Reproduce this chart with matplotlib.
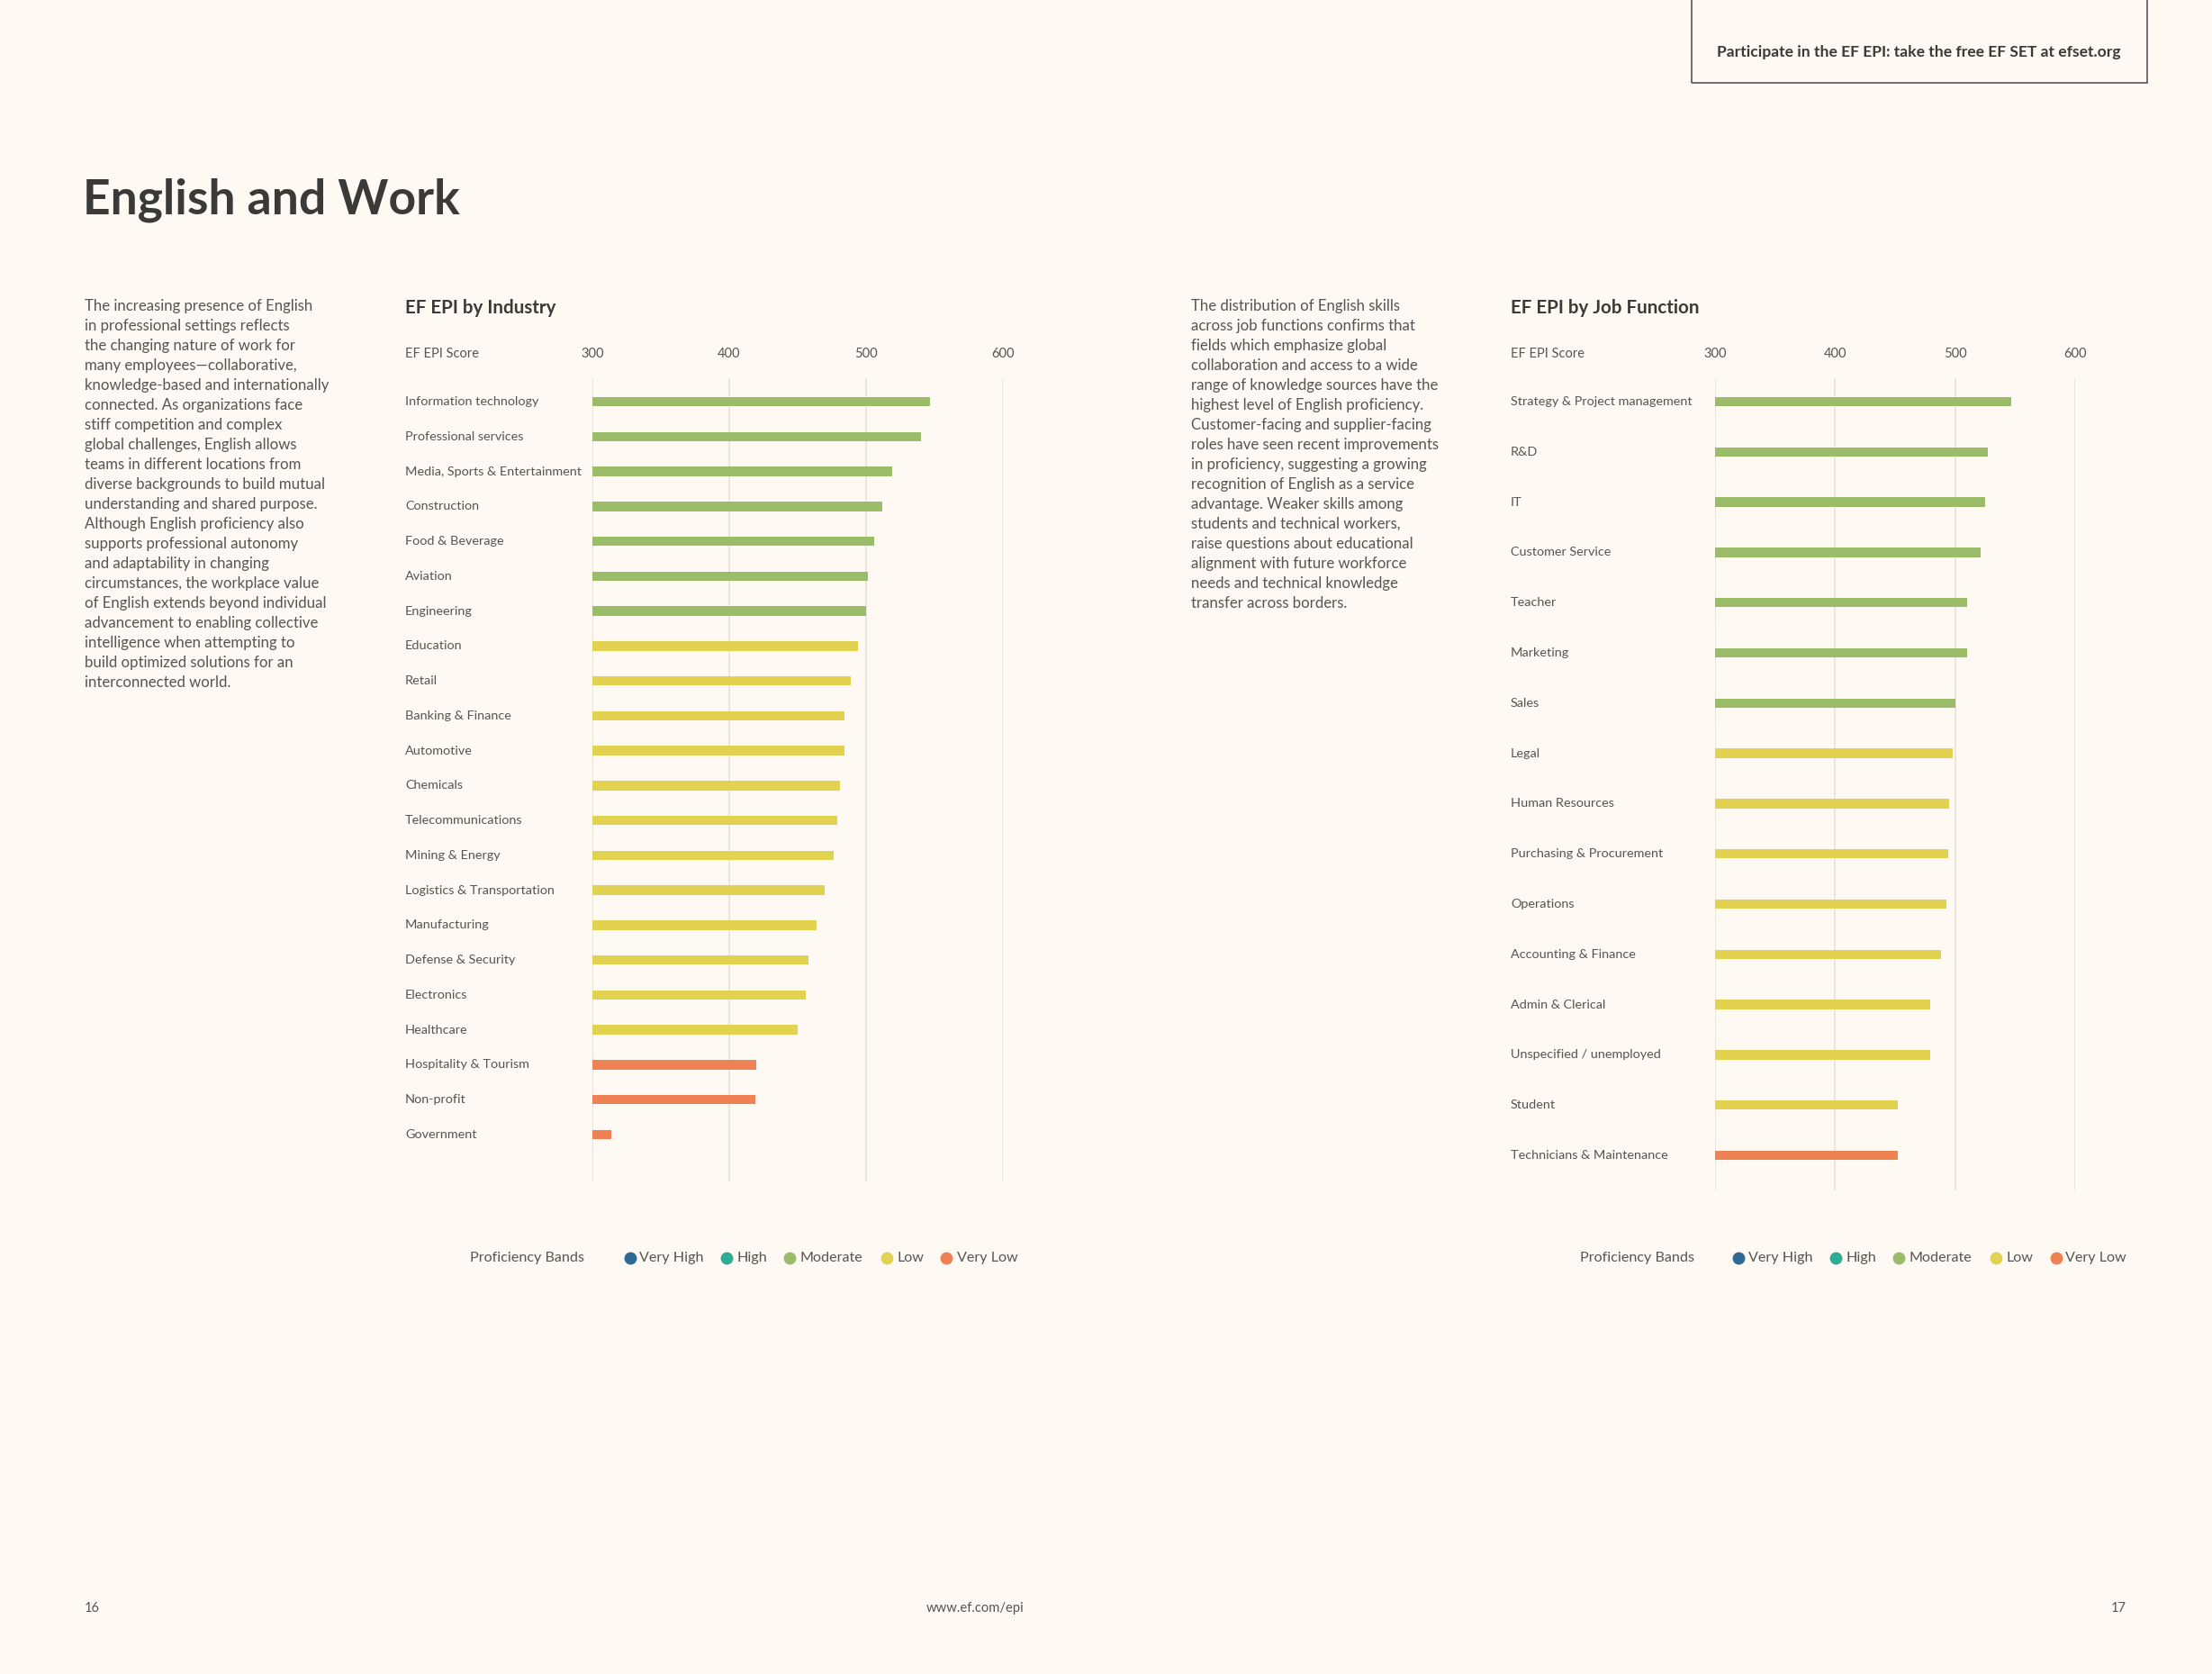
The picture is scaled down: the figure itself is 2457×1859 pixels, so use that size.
import matplotlib
matplotlib.use("Agg")
import matplotlib.pyplot as plt
from matplotlib.transforms import blended_transform_factory
from matplotlib.patches import Rectangle

# ---------------- data ----------------
industries = ["Information technology", "Professional services", "Media, Sports & Entertainment",
              "Construction", "Food & Beverage", "Aviation", "Engineering", "Education", "Retail",
              "Banking & Finance", "Automotive", "Chemicals", "Telecommunications", "Mining & Energy",
              "Logistics & Transportation", "Manufacturing", "Defense & Security", "Electronics",
              "Healthcare", "Hospitality & Tourism", "Non-profit", "Government"]
industry_scores = [547, 540, 519, 512, 506, 501, 500, 494, 489, 484, 484, 481, 479, 476,
                   470, 464, 458, 456, 450, 420, 419, 314]
industry_bands = ["Moderate"] * 7 + ["Low"] * 12 + ["Very Low"] * 3

jobs = ["Strategy & Project management", "R&D", "IT", "Customer Service", "Teacher", "Marketing",
        "Sales", "Legal", "Human Resources", "Purchasing & Procurement", "Operations",
        "Accounting & Finance", "Admin & Clerical", "Unspecified / unemployed", "Student",
        "Technicians & Maintenance"]
job_scores = [547, 527, 525, 521, 510, 510, 500, 498, 495, 494, 493, 488, 479, 479, 452, 452]
job_bands = ["Moderate"] * 7 + ["Low"] * 8 + ["Very Low"]

x_ticks = [300, 400, 500, 600]
band_names = ["Very High", "High", "Moderate", "Low", "Very Low"]
band_colors = {"Very High": "#2E6A96", "High": "#2BAE94", "Moderate": "#9BBD6A",
               "Low": "#E3D150", "Very Low": "#F08152"}

left_text = ["The increasing presence of English", "in professional settings reflects",
             "the changing nature of work for", "many employees\u2014collaborative,",
             "knowledge-based and internationally", "connected. As organizations face",
             "stiff competition and complex", "global challenges, English allows",
             "teams in different locations from", "diverse backgrounds to build mutual",
             "understanding and shared purpose.", "Although English proficiency also",
             "supports professional autonomy", "and adaptability in changing",
             "circumstances, the workplace value", "of English extends beyond individual",
             "advancement to enabling collective", "intelligence when attempting to",
             "build optimized solutions for an", "interconnected world."]
right_text = ["The distribution of English skills", "across job functions confirms that",
              "fields which emphasize global", "collaboration and access to a wide",
              "range of knowledge sources have the", "highest level of English proficiency.",
              "Customer-facing and supplier-facing", "roles have seen recent improvements",
              "in proficiency, suggesting a growing", "recognition of English as a service",
              "advantage. Weaker skills among", "students and technical workers,",
              "raise questions about educational", "alignment with future workforce",
              "needs and technical knowledge", "transfer across borders."]

# ---------------- style ----------------
W, H = 2457, 1859
BG = "#FEFAF3"
DARK = "#3A3A38"
TXT = "#555553"
GRID = "#E8E4DC"
FONT = ["Lato", "DejaVu Sans"]
plt.rcParams["font.family"] = FONT

fig = plt.figure(figsize=(W / 100, H / 100), dpi=100, facecolor=BG)


def fx(x):
    return x / W


def fy(y):
    return 1 - y / H


def ftext(x, y, s, **kw):
    fig.text(fx(x), fy(y), s, **kw)


# header / titles
fig.patches.append(Rectangle((fx(1879), fy(92)), fx(2385) - fx(1879), fy(-2) - fy(92),
                             transform=fig.transFigure, fill=False, edgecolor="#555555", lw=1.2))
ftext(2131, 58, "Participate in the EF EPI: take the free EF SET at efset.org", ha="center",
      va="center", fontsize=12.6, fontweight="bold", color=DARK)
ftext(92, 222, "English and Work", ha="left", va="center", fontsize=38.5, fontweight="bold", color=DARK)

for i, line in enumerate(left_text):
    ftext(94, 340 + i * 22.0, line, ha="left", va="center", fontsize=12.1, color=TXT)
for i, line in enumerate(right_text):
    ftext(1323, 340 + i * 22.0, line, ha="left", va="center", fontsize=12.1, color=TXT)


def draw_chart(title, cats, scores, bands, box, row0, rowN, title_x):
    left, right, top, bottom = box
    ax = fig.add_axes([fx(left), fy(bottom), fx(right) - fx(left), fy(top) - fy(bottom)])
    ax.set_facecolor("none")
    n = len(cats)
    sp = (rowN - row0) / (n - 1)
    ax.set_ylim((n - 1) + (bottom - rowN) / sp, -(row0 - top) / sp)
    ax.set_xlim(300, 600)
    for t in x_ticks:
        ax.axvline(t, color=GRID, lw=1.3, zorder=0)
    ypos = list(range(n))
    ax.barh(ypos, [s - 300 for s in scores], left=300, height=10.5 / sp,
            color=[band_colors[b] for b in bands], zorder=2)
    for s in ax.spines.values():
        s.set_visible(False)
    ax.set_xticks([])
    ax.set_yticks([])
    trY = blended_transform_factory(fig.transFigure, ax.transData)
    for yv, c in zip(ypos, cats):
        ax.text(fx(title_x), yv, c, transform=trY, ha="left", va="center", fontsize=10.4, color=TXT)
    trX = blended_transform_factory(ax.transData, fig.transFigure)
    for t in x_ticks:
        ax.text(t, fy(393), str(t), transform=trX, ha="center", va="center", fontsize=10.5, color=TXT)
    ftext(title_x, 393, "EF EPI Score", ha="left", va="center", fontsize=10.5, color=TXT)
    ftext(title_x, 342, title, ha="left", va="center", fontsize=14.8, fontweight="bold", color=DARK)
    return ax


draw_chart("EF EPI by Industry", industries, industry_scores, industry_bands,
           (658, 1114, 420, 1312), 446, 1260, 450)
draw_chart("EF EPI by Job Function", jobs, job_scores, job_bands,
           (1905, 2305, 420, 1322), 446, 1283, 1678)


def legend(x_label, dots, texts, y=1397):
    ftext(x_label, y, "Proficiency Bands", ha="left", va="center", fontsize=11.6, color=TXT)
    for name, dx, tx in zip(band_names, dots, texts):
        fig.add_artist(plt.Line2D([fx(dx)], [fy(y)], marker="o", markersize=9, linestyle="none",
                                  color=band_colors[name], transform=fig.transFigure))
        ftext(tx, y, name, ha="left", va="center", fontsize=11.6, color=TXT)


legend(522, [700, 807, 877, 985, 1051], [710, 818, 888, 997, 1063])
legend(1755, [1931, 2039, 2109, 2217, 2284], [1942, 2050, 2120, 2228, 2294])

# footer
ftext(94, 1786, "16", ha="left", va="center", fontsize=10.6, color=TXT)
ftext(1083, 1786, "www.ef.com/epi", ha="center", va="center", fontsize=10.6, color=TXT)
ftext(2362, 1786, "17", ha="right", va="center", fontsize=10.6, color=TXT)

fig.savefig("out.png", dpi=100, facecolor=BG)
